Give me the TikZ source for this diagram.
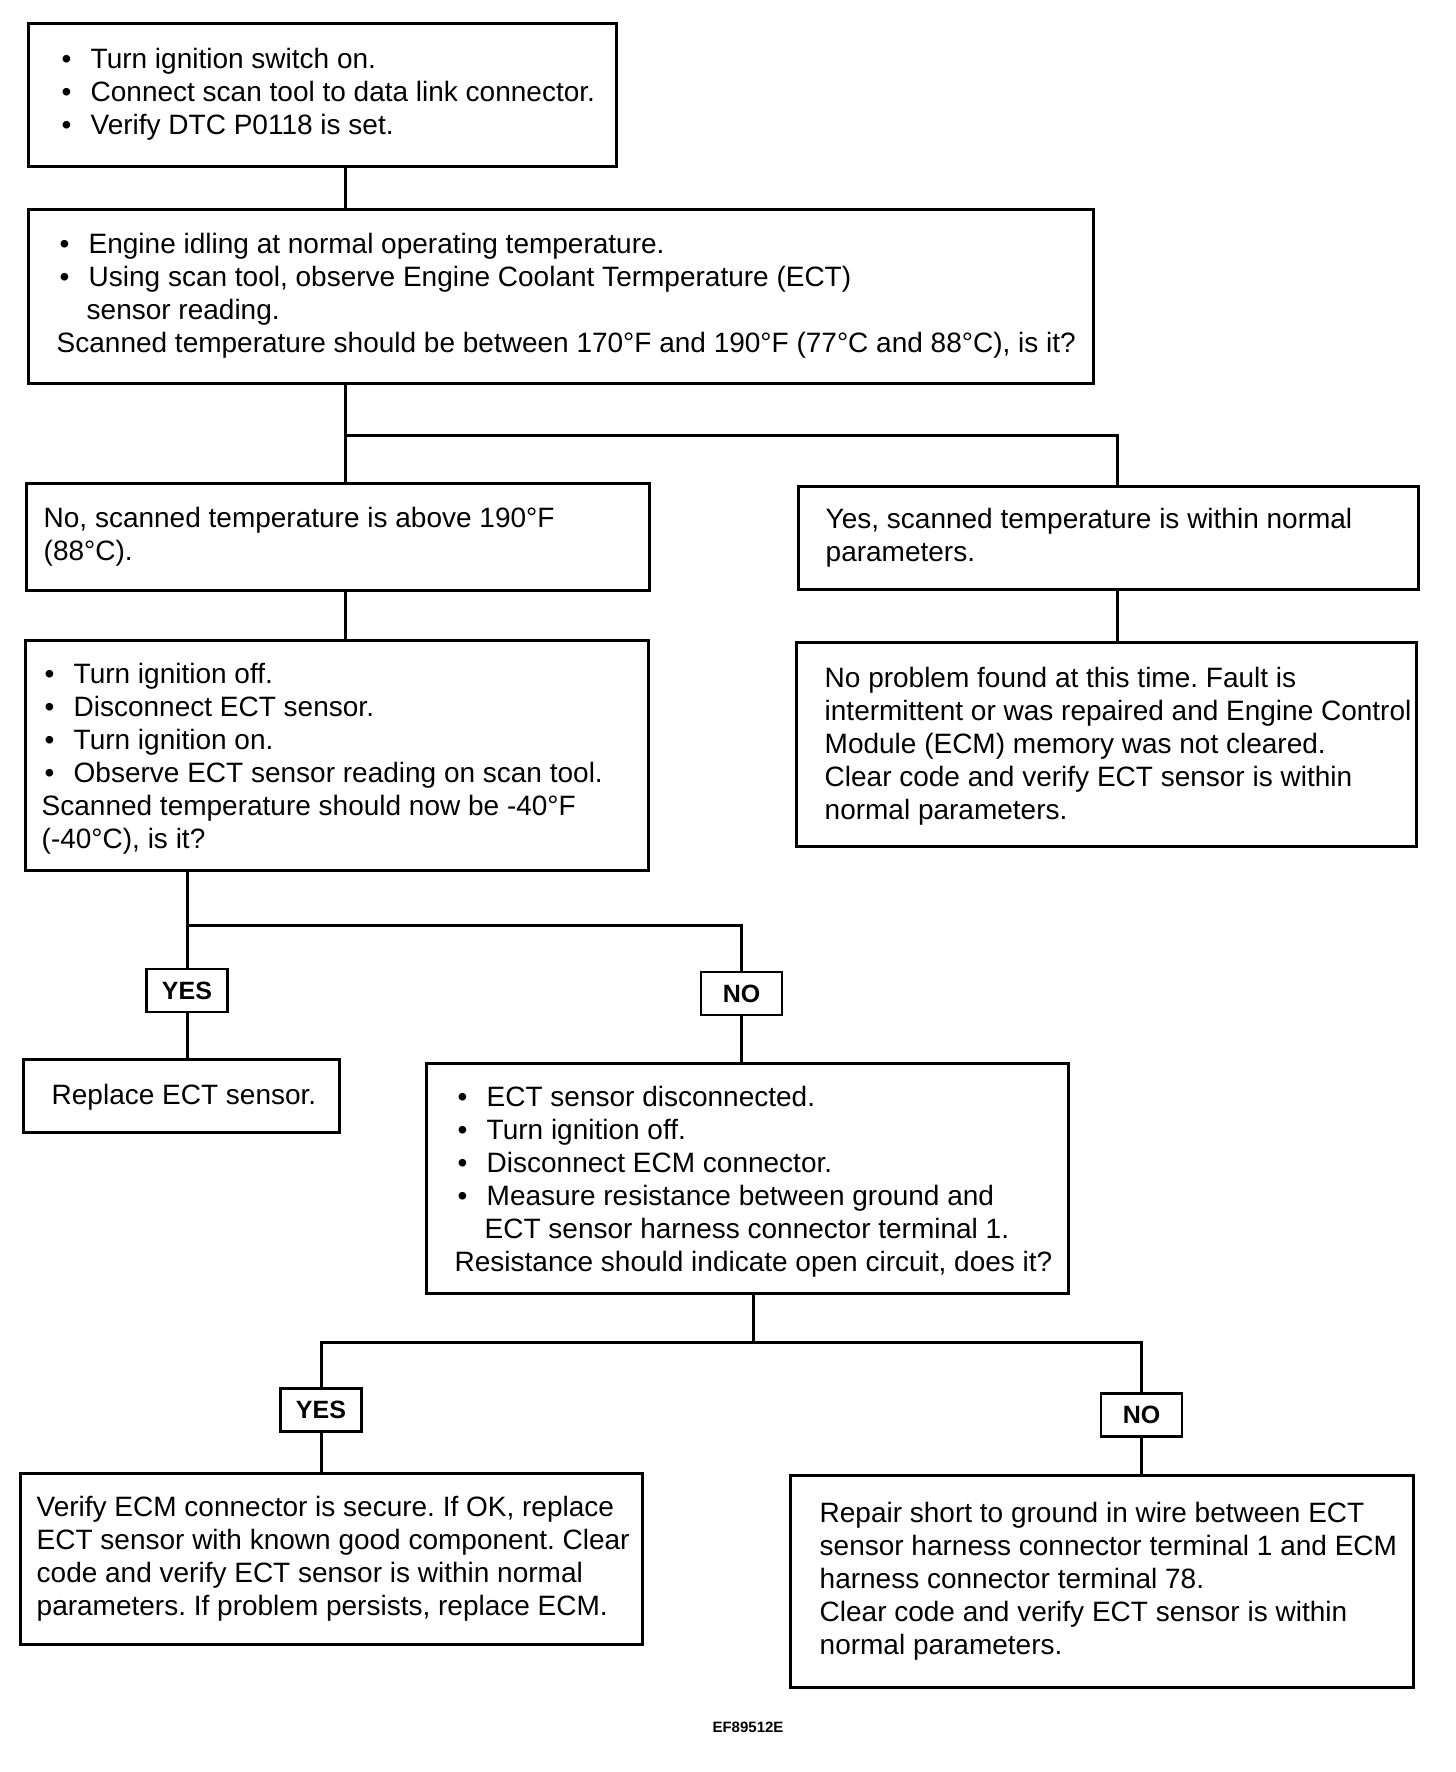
\documentclass[tikz,border=0pt]{standalone}
\usepackage{fontspec}
\setmainfont{Liberation Sans}
\frenchspacing
\newcommand\bul{\makebox[32pt][l]{\hspace{3pt}•}}
\newcommand\ind{\hspace*{30pt}}
\begin{document}
\begin{tikzpicture}[x=1pt,y=-1pt,
  box/.style={draw, line width=3pt, rectangle, inner sep=0pt},
  txt/.style={align=left, inner sep=0pt, anchor=west, font=\fontsize{28}{33}\selectfont},
  yn/.style={draw, line width=2.8pt, inner sep=0pt, font=\fontsize{25}{30}\selectfont\bfseries, minimum width=81pt, minimum height=43pt},
  wire/.style={line width=3pt}]
\useasboundingbox (0,0) rectangle (1456,1772);
\fill[white] (0,0) rectangle (1456,1772);

% boxes
\node[box, minimum width=588pt, minimum height=143pt] (b1) at (322,94.5) {};
\node[box, minimum width=1065pt, minimum height=174pt] (b2) at (560.5,296) {};
\node[box, minimum width=623pt, minimum height=107pt] (b3) at (337.5,536.5) {};
\node[box, minimum width=620pt, minimum height=103pt] (b4) at (1108,537.5) {};
\node[box, minimum width=623pt, minimum height=230pt] (b5) at (336.5,755) {};
\node[box, minimum width=620pt, minimum height=204pt] (b6) at (1106,744) {};
\node[yn] (yes1) at (187,990.5) {YES};
\node[yn] (no1) at (741.5,993.5) {NO};
\node[box, minimum width=316pt, minimum height=73pt] (b7) at (181,1095.5) {};
\node[box, minimum width=642pt, minimum height=230pt] (b8) at (747,1178) {};
\node[yn] (yes2) at (321,1410) {YES};
\node[yn] (no2) at (1141.5,1415) {NO};
\node[box, minimum width=622pt, minimum height=171pt] (b9) at (331,1558.5) {};
\node[box, minimum width=623pt, minimum height=212pt] (b10) at (1101.5,1581) {};

% texts
\node[txt] (t1) at ([xshift=32pt]b1.west) {\bul Turn ignition switch on.\\ \bul Connect scan tool to data link connector.\\ \bul Verify DTC P0118 is set.};
\node[txt] (t2) at ([xshift=30pt]b2.west) {\bul Engine idling at normal operating temperature.\\ \bul Using scan tool, observe Engine Coolant Termperature (ECT)\\ \ind sensor reading.\\ Scanned temperature should be between 170°F and 190°F (77°C and 88°C), is it?};
\node[txt] (t3) at ([xshift=19pt]b3.west) {No, scanned temperature is above 190°F\\ (88°C).};
\node[txt] (t4) at ([xshift=29pt]b4.west) {Yes, scanned temperature is within normal\\ parameters.};
\node[txt] (t5) at ([xshift=18pt,yshift=-4pt]b5.west) {\bul Turn ignition off.\\ \bul Disconnect ECT sensor.\\ \bul Turn ignition on.\\ \bul Observe ECT sensor reading on scan tool.\\ Scanned temperature should now be -40°F\\ (-40°C), is it?};
\node[txt] (t6) at ([xshift=30pt,yshift=-2pt]b6.west) {No problem found at this time. Fault is\\ intermittent or was repaired and Engine Control\\ Module (ECM) memory was not cleared.\\ Clear code and verify ECT sensor is within\\ normal parameters.};
\node[txt] (t7) at ([xshift=30pt,yshift=-2pt]b7.west) {Replace ECT sensor.};
\node[txt] (t8) at ([xshift=30pt,yshift=-4pt]b8.west) {\bul ECT sensor disconnected.\\ \bul Turn ignition off.\\ \bul Disconnect ECM connector.\\ \bul Measure resistance between ground and\\ \ind ECT sensor harness connector terminal 1.\\ Resistance should indicate open circuit, does it?};
\node[txt] (t9) at ([xshift=18pt]b9.west) {Verify ECM connector is secure. If OK, replace\\ ECT sensor with known good component. Clear\\ code and verify ECT sensor is within normal\\ parameters. If problem persists, replace ECM.};
\node[txt] (t10) at ([xshift=31pt]b10.west) {Repair short to ground in wire between ECT\\ sensor harness connector terminal 1 and ECM\\ harness connector terminal 78.\\ Clear code and verify ECT sensor is within\\ normal parameters.};
\node[font=\fontsize{15}{18}\selectfont\bfseries] (cap) at (748,1727) {EF89512E};

% connectors
\coordinate (j1) at (345,435);
\coordinate (k1) at (1117,435);
\coordinate (j2) at (187,925);
\coordinate (k2) at (741.5,925);
\coordinate (j3) at (753,1342);
\coordinate (l3) at (321,1342);
\coordinate (r3) at (1141.5,1342);
\draw[wire] (b1.south -| j1) -- (b2.north -| j1);
\draw[wire] (b2.south -| j1) -- (j1);
\draw[wire] (b3.north -| j1) -- (j1) -- (k1) -- (b4.north -| k1);
\draw[wire] (b3.south -| j1) -- (b5.north -| j1);
\draw[wire] (b4.south -| k1) -- (b6.north -| k1);
\draw[wire] (b5.south -| j2) -- (j2) -- (k2) -- (no1.north);
\draw[wire] (j2) -- (yes1.north);
\draw[wire] (yes1.south) -- (b7.north -| yes1);
\draw[wire] (no1.south) -- (b8.north -| no1);
\draw[wire] (b8.south -| j3) -- (j3);
\draw[wire] (yes2.north) -- (l3) -- (r3) -- (no2.north);
\draw[wire] (yes2.south) -- (b9.north -| yes2);
\draw[wire] (no2.south) -- (b10.north -| no2);
\end{tikzpicture}
\end{document}
